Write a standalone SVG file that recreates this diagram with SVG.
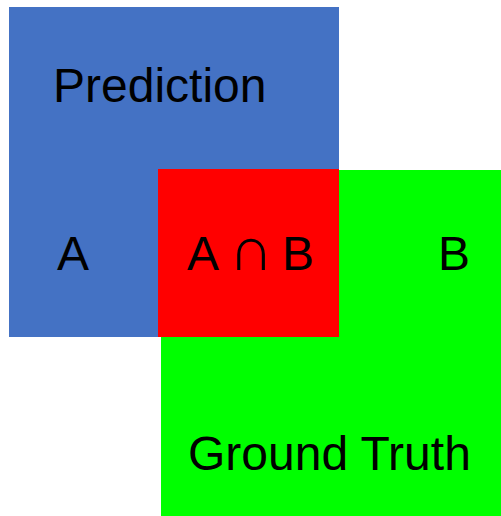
<svg xmlns="http://www.w3.org/2000/svg" width="501" height="516" viewBox="0 0 501 516">
  <style>
    .lbl { font-family: "Liberation Sans", Arial, sans-serif; font-size: 48px; fill: #000; }
    .cap { font-size: 62px; }
  </style>
  <rect width="501" height="516" fill="#fff"/>
  <g id="ground-truth">
    <rect x="161" y="170" width="340" height="346" fill="#00ff00"/>
    <text class="lbl" x="188" y="470">Ground Truth</text>
    <text class="lbl" x="438" y="270">B</text>
  </g>
  <g id="prediction">
    <rect x="9" y="7" width="330" height="330" fill="#4472c4"/>
    <text class="lbl" x="53" y="102">Prediction</text>
    <text class="lbl" x="57" y="270">A</text>
  </g>
  <g id="intersection">
    <rect x="158" y="169" width="181" height="168" fill="#ff0000"/>
    <text class="lbl" y="270"><tspan x="187">A</tspan> <tspan class="cap" x="229">∩</tspan> <tspan x="282">B</tspan></text>
  </g>
  <g id="connectors"/>
</svg>
